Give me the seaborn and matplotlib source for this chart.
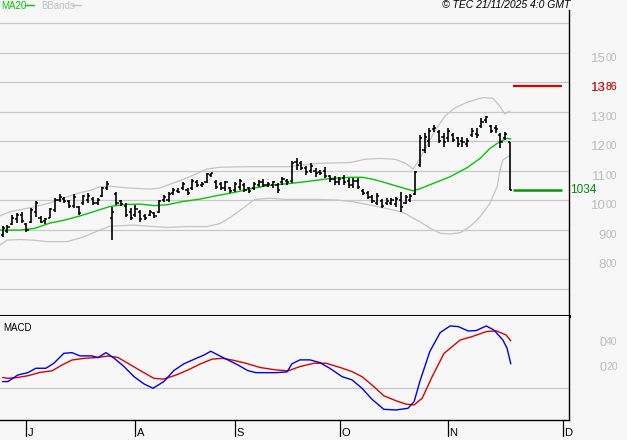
import numpy as np
import pandas as pd
import matplotlib
matplotlib.use("Agg")
import matplotlib.pyplot as plt
import matplotlib.transforms as mtransforms
import seaborn as sns

# ---------------- data ----------------
lows = [873, 887, 915, 923, 923, 893, 923, 943, 921, 919, 938, 960, 994, 989, 972, 972, 949, 983, 989, 983,
        983, 1011, 1034, 866, 983, 978, 943,
        932, 943, 927, 932, 946, 938, 955, 994, 994, 1017, 1023, 1034, 1017, 1034, 1045, 1045, 1057, 1079, 1036,
        1034, 1032, 1023, 1028, 1034, 1028, 1023,
        1034, 1045, 1045, 1045, 1040, 1025, 1051, 1051, 1059, 1102, 1102, 1085, 1091, 1079, 1085, 1074, 1062, 1051,
        1051, 1051, 1040, 1040, 1036, 1017, 1002, 989, 983, 972,
        983, 983, 977, 960, 985, 992, 1017, 1113, 1158, 1181, 1232, 1192, 1181, 1198, 1198, 1181, 1181, 1181, 1215,
        1209, 1243, 1260, 1226, 1226, 1175, 1203, 1034]
highs = [912, 914, 948, 957, 959, 923, 972, 997, 946, 940, 972, 1006, 1019, 1011, 1000, 1019, 981, 1017, 1023, 1011,
         1006, 1045, 1064, 975, 1028, 1000, 989,
         972, 983, 966, 953, 966, 960, 1000, 1017, 1028, 1040, 1040, 1062, 1040, 1070, 1068, 1060, 1093, 1093, 1068,
         1062, 1066, 1045, 1062, 1070, 1057, 1045,
         1062, 1068, 1070, 1062, 1066, 1059, 1079, 1070, 1133, 1141, 1133, 1115, 1127, 1107, 1102, 1113, 1085, 1081,
         1079, 1085, 1074, 1074, 1074, 1036, 1032, 1017, 1025, 1002,
         1006, 1006, 1011, 1028, 1017, 1019, 1098, 1220, 1226, 1243, 1254, 1237, 1226, 1243, 1226, 1215, 1215, 1209,
         1243, 1243, 1277, 1286, 1254, 1254, 1226, 1232, 1198]
opens = [880, 895, 920, 935, 950, 920, 925, 960, 940, 930, 940, 965, 1000, 1005, 995, 980, 975, 990, 1000, 1005,
         990, 1015, 1040, 940, 1020, 995, 980,
         960, 950, 960, 945, 950, 955, 960, 1000, 1000, 1025, 1030, 1040, 1035, 1040, 1060, 1050, 1060, 1085, 1060,
         1055, 1040, 1040, 1035, 1045, 1050, 1040,
         1040, 1050, 1060, 1050, 1050, 1050, 1060, 1065, 1065, 1130, 1125, 1110, 1100, 1100, 1095, 1100, 1080, 1070,
         1060, 1075, 1065, 1050, 1065, 1030, 1025, 1010, 990, 995,
         990, 990, 985, 1000, 990, 1000, 1020, 1120, 1170, 1200, 1240, 1230, 1215, 1210, 1220, 1210, 1200, 1190,
         1220, 1225, 1250, 1270, 1250, 1245, 1220, 1210, 1198]
closes = [905, 910, 940, 950, 930, 900, 965, 990, 925, 935, 968, 1000, 1010, 995, 978, 1010, 955, 1012, 1015, 990,
          1000, 1040, 1055, 960, 990, 985, 950,
          940, 970, 935, 940, 960, 945, 995, 1010, 1020, 1035, 1028, 1055, 1025, 1065, 1050, 1055, 1088, 1090, 1045,
          1040, 1060, 1030, 1055, 1065, 1035, 1030,
          1055, 1060, 1050, 1055, 1060, 1035, 1070, 1060, 1125, 1120, 1110, 1095, 1115, 1090, 1090, 1080, 1070, 1060,
          1070, 1060, 1050, 1065, 1045, 1025, 1010, 995, 1015, 980,
          995, 1000, 1005, 975, 1010, 1015, 1095, 1210, 1215, 1235, 1245, 1200, 1195, 1235, 1205, 1190, 1195, 1200,
          1235, 1220, 1265, 1280, 1235, 1240, 1195, 1225, 1034]

ma_x = [-0.6, 3.6, 6.8, 10.0, 13.1, 16.3, 19.5, 22.6, 25.8, 29.0, 32.1, 34.7, 38.0, 41.6, 45.2, 49.0, 52.2, 56.4,
        60.6, 64.8, 69.1, 73.3, 75.8, 77.9, 80.0, 82.1, 84.2, 86.6, 88.0, 90.8, 94.4, 98.0, 100.7, 102.8, 104.9,
        106.4, 107.2]
ma_y = [898, 898, 904, 922, 932, 946, 962, 978, 985, 986, 981, 984, 995, 1003, 1015, 1026, 1038, 1050, 1056, 1064,
        1073, 1077, 1077, 1071, 1062, 1052, 1042, 1031, 1038, 1056, 1079, 1110, 1141, 1175, 1198, 1209, 1207]

up_x = [-0.6, 1.5, 6.4, 10.0, 13.6, 16.3, 18.4, 20.5, 22.6, 26.2, 31.1, 33.2, 35.9, 38.9, 43.1, 45.8, 52.2, 60.6,
        65.9, 73.3, 76.4, 79.6, 82.8, 84.9, 86.6, 88.0, 89.7, 91.2, 93.3, 95.4, 98.2, 101.3, 103.4, 104.9, 105.9,
        107.0]
up_y = [946, 960, 976, 990, 1011, 1025, 1032, 1045, 1047, 1041, 1037, 1041, 1057, 1075, 1105, 1111, 1113, 1113,
        1124, 1127, 1138, 1141, 1138, 1125, 1105, 1140, 1190, 1235, 1285, 1312, 1333, 1347, 1345, 1318, 1292, 1302]

lo_x = [-0.6, 0.9, 3.6, 6.4, 9.3, 13.6, 16.9, 20.5, 22.6, 27.5, 31.1, 34.7, 38.9, 43.1, 45.8, 47.9, 51.1, 53.2,
        56.4, 59.9, 66.9, 70.5, 73.9, 77.5, 80.7, 82.8, 84.9, 86.4, 88.0, 90.2, 92.3, 94.4, 96.5, 98.6, 100.7,
        102.8, 104.3, 104.9, 105.5, 106.4, 107.0]
lo_y = [847, 864, 866, 864, 859, 859, 874, 898, 911, 915, 911, 907, 910, 910, 920, 940, 977, 1002, 1006, 1002,
        1002, 1000, 994, 983, 972, 965, 955, 940, 927, 904, 887, 885, 889, 910, 943, 989, 1045, 1100, 1136, 1145,
        1150]

macd_x = [0, 1.1, 3.2, 5.3, 7.0, 9.1, 10.8, 12.9, 14.6, 16.3, 18.8, 20.1, 21.8, 23.5, 25.6, 27.7, 29.8, 31.7, 34.0,
          36.1, 38.2, 40.4, 42.5, 43.9, 45.4, 47.5, 49.6, 51.7, 53.4, 55.5, 57.7, 60.0, 61.0, 62.7, 64.8, 66.9,
          69.0, 71.6, 73.7, 75.8, 77.9, 80.4, 83.0, 85.5, 86.8, 88.0, 90.1, 92.3, 94.4, 96.1, 98.2, 99.9, 102.0,
          103.6, 105.5, 106.4, 107.2]
macd_y = [5.2, 5.2, 10.3, 12.1, 15.5, 15.5, 19.4, 27.1, 27.6, 25.1, 25.1, 23.8, 27.6, 23.3, 16.8, 9.0, 3.4, 0.0,
          5.2, 13.7, 18.9, 22.5, 25.8, 28.7, 25.8, 22.0, 18.1, 13.7, 12.1, 12.1, 12.1, 12.7, 18.9, 22.0, 22.0, 19.9,
          15.5, 9.0, 6.5, 0.0, -8.5, -16.3, -16.8, -15.5, -10.3, 5.2, 28.4, 43.2, 48.3, 47.8, 44.4, 44.7, 48.3,
          45.2, 37.5, 31.0, 18.9]
sig_x = [0, 1.1, 3.2, 5.3, 7.9, 10.4, 12.5, 14.6, 17.2, 20.1, 22.2, 24.3, 26.4, 29.4, 31.9, 34.0, 36.6, 39.1, 41.6,
         44.2, 46.3, 48.4, 51.3, 54.3, 57.7, 60.2, 62.7, 65.7, 68.2, 71.2, 73.7, 75.8, 78.3, 80.4, 83.0, 85.1, 86.8,
         88.5, 90.6, 93.1, 96.5, 99.0, 102.0, 104.1, 106.2, 107.2]
sig_y = [8.4, 7.7, 8.4, 9.7, 12.3, 13.5, 18.0, 21.9, 23.2, 23.9, 25.0, 23.9, 19.4, 12.9, 7.7, 7.1, 10.3, 14.2, 18.7,
         22.6, 23.2, 21.9, 19.4, 16.1, 14.2, 13.5, 16.8, 19.4, 19.4, 16.1, 12.9, 9.0, 1.3, -5.8, -9.7, -12.3, -12.9,
         -7.7, 9.0, 27.0, 37.4, 40.0, 43.9, 44.5, 41.3, 36.8]

month_labels = ["J", "A", "S", "O", "N", "D"]
month_pos = [5.0, 28.0, 49.0, 71.1, 93.9, 118.2]
grid_levels = [700, 800, 900, 1000, 1100, 1200, 1300, 1400, 1500, 1600]
price_labels = [("8", "00", 800), ("9", "00", 900), ("10", "00", 1000), ("11", "00", 1100), ("12", "00", 1200),
                ("13", "00", 1300), ("14", "00", 1400), ("15", "00", 1500)]
macd_labels = [("0", "20", 20), ("0", "40", 40)]
level_high = 1386
level_low = 1034
copyright_text = "© TEC 21/11/2025 4:0 GMT"

# ---------------- style ----------------
sns.set_style("white")
plt.rcParams["font.family"] = ["Liberation Sans", "DejaVu Sans"]
BG = "#f7f7f7"
GRID = "#c8c8c8"
LABEL = "#bdbdbd"

W, H = 627, 440
fig = plt.figure(figsize=(W / 100, H / 100), dpi=100, facecolor=BG)

def fx(px):
    return px / W

def fy(py):
    return 1 - py / H

ax = fig.add_axes([0, fy(316), fx(569), (316 - 10) / H], facecolor=BG)
ax2 = fig.add_axes([0, fy(419.5), fx(569), (419.5 - 316) / H], facecolor=BG)

XL = (-0.57, 119.47)
for a in (ax, ax2):
    a.set_xlim(*XL)
    a.set_xticks([])
    a.set_yticks([])
    for s in ("left", "top"):
        a.spines[s].set_visible(False)
    a.spines["right"].set_color("black")
    a.spines["right"].set_linewidth(1.0)
ax.set_ylim(606.8, 1644.1)
ax.spines["bottom"].set_color("black")
ax.spines["bottom"].set_linewidth(2.2)
ax2.spines["bottom"].set_color("black")
ax2.spines["bottom"].set_linewidth(1.0)
ax2.set_ylim(-24.2, 56.0)

# gridlines
for g in grid_levels:
    ax.axhline(g, color=GRID, lw=0.9, zorder=0)
ax2.axhline(0, color=GRID, lw=0.9, zorder=0)

# bands and MA
sns.lineplot(x=up_x, y=up_y, ax=ax, color="#c4c4c4", lw=0.9, sort=False, zorder=1)
sns.lineplot(x=lo_x, y=lo_y, ax=ax, color="#c4c4c4", lw=0.9, sort=False, zorder=1)
sns.lineplot(x=ma_x, y=ma_y, ax=ax, color="#00c800", lw=1.0, sort=False, zorder=2)

# OHLC bars
idx = np.arange(len(lows))
ax.vlines(idx, lows, highs, color="black", lw=1.2, zorder=3)
ax.hlines(opens, idx - 0.45, idx, color="black", lw=1.1, zorder=3)
ax.hlines(closes, idx, idx + 0.45, color="black", lw=1.1, zorder=3)

# level lines
x0, x1 = 107.7, 118.0
ax.plot([x0, x1], [level_high, level_high], color="#dd0000", lw=1.6, solid_capstyle="butt", zorder=3)
ax.plot([x0, x1], [level_low, level_low], color="#009900", lw=1.8, solid_capstyle="butt", zorder=3)

# right price labels
tr = mtransforms.blended_transform_factory(fig.transFigure, ax.transData)
for big, small, val in price_labels:
    ax.text(fx(606), val, big, transform=tr, ha="right", va="top", fontsize=9.5, color=LABEL, clip_on=False)
    ax.text(fx(606), val, small, transform=tr, ha="left", va="top", fontsize=7.5, color=LABEL, clip_on=False)
ax.text(fx(606), 1400, str(level_high)[:2], transform=tr, ha="right", va="top", fontsize=9.5, color="#cc0000",
        clip_on=False)
ax.text(fx(606), 1400, str(level_high)[2:], transform=tr, ha="left", va="top", fontsize=7.5, color="#cc0000",
        clip_on=False)
ax.text(fx(570), level_low, str(level_low), transform=tr, ha="left", va="center", fontsize=8.5, color="#008800",
        clip_on=False)

# MACD
sns.lineplot(x=macd_x, y=macd_y, ax=ax2, color="#0000ee", lw=1.0, sort=False, zorder=3)
sns.lineplot(x=sig_x, y=sig_y, ax=ax2, color="#dd0000", lw=1.0, sort=False, zorder=2)
tr2 = mtransforms.blended_transform_factory(fig.transFigure, ax2.transData)
for big, small, val in macd_labels:
    ax2.text(fx(606), val, big, transform=tr2, ha="right", va="top", fontsize=9, color=LABEL, clip_on=False)
    ax2.text(fx(606), val, small, transform=tr2, ha="left", va="top", fontsize=7.5, color=LABEL, clip_on=False)
fig.text(fx(3), fy(323), "MACD", ha="left", va="top", fontsize=7, color="black")

# month ticks
for lab, pos in zip(month_labels, month_pos):
    ax2.plot([pos, pos], [0, -0.16], transform=mtransforms.blended_transform_factory(ax2.transData, ax2.transAxes),
             color="black", lw=0.9, clip_on=False)
    ax2.text(pos, fy(437.5), lab, transform=mtransforms.offset_copy(
        mtransforms.blended_transform_factory(ax2.transData, fig.transFigure), fig=fig, x=1.5, y=0, units="dots"),
        ha="left", va="bottom", fontsize=8, color="black", clip_on=False)

# legend & header
fig.text(fx(1), fy(1), "MA20", ha="left", va="top", fontsize=7, color="#00c800")
fig.add_artist(plt.Line2D([fx(25), fx(34)], [fy(5), fy(5)], color="#00c800", lw=1.0))
fig.text(fx(41), fy(1), "BBands", ha="left", va="top", fontsize=7, color="#c0c0c0")
fig.add_artist(plt.Line2D([fx(72), fx(81)], [fy(5), fy(5)], color="#c0c0c0", lw=1.0))
fig.text(fx(442), fy(0.5), copyright_text, ha="left", va="top", fontsize=7.5, style="italic", color="black")

fig.savefig("out.png", dpi=100, facecolor=BG)
